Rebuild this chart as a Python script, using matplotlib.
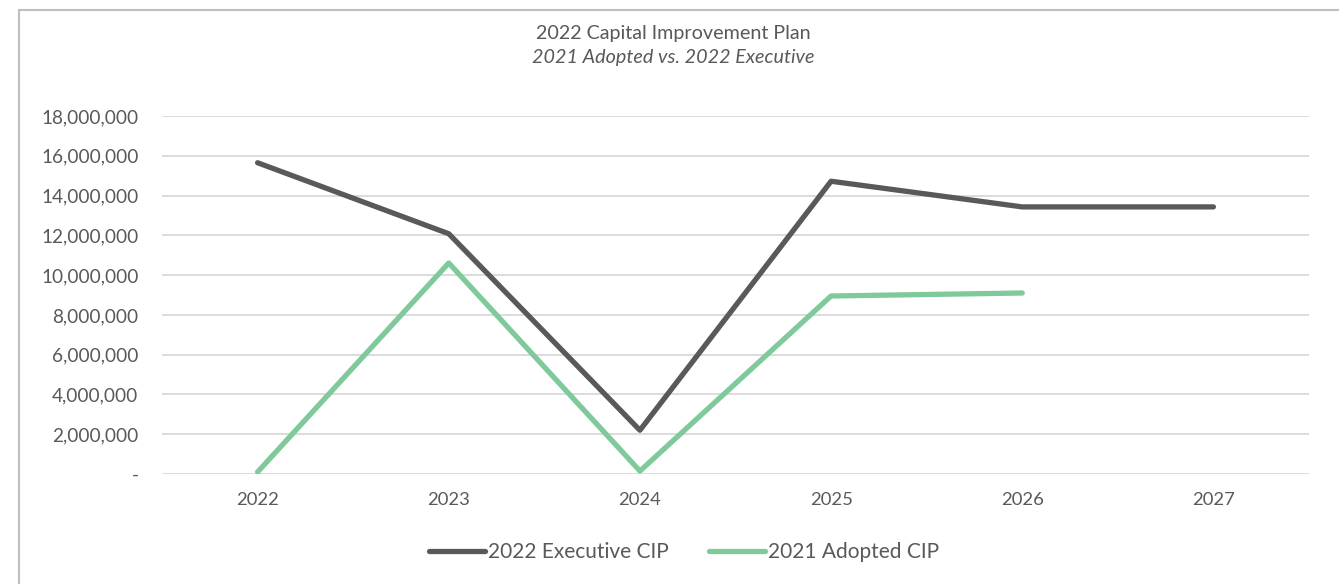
import matplotlib.pyplot as plt
from matplotlib.patches import Rectangle
from matplotlib.ticker import FuncFormatter

plt.rcParams['font.family'] = ['Lato', 'DejaVu Sans']

years = ['2022', '2023', '2024', '2025', '2026', '2027']
executive = [15650000, 12080000, 2200000, 14720000, 13430000, 13430000]
adopted = [100000, 10610000, 150000, 8950000, 9100000]

text_color = '#595959'

fig = plt.figure(figsize=(13.39, 5.84), dpi=100)
ax = fig.add_axes([162 / 1339, 1 - 474 / 584, (1309 - 162) / 1339, (474 - 116) / 584])

ax.plot(range(len(executive)), executive, color='#595959', lw=3.8,
        solid_capstyle='round', solid_joinstyle='round', label='2022 Executive CIP')
ax.plot(range(len(adopted)), adopted, color='#7fc99a', lw=3.8,
        solid_capstyle='round', solid_joinstyle='round', label='2021 Adopted CIP')

ax.set_xlim(-0.5, len(years) - 0.5)
ax.set_ylim(0, 18000000)
ax.set_yticks(range(0, 18000001, 2000000))
ax.yaxis.set_major_formatter(FuncFormatter(lambda v, p: '-' if v == 0 else '{:,.0f}'.format(v)))
ax.set_xticks(range(len(years)))
ax.set_xticklabels(years)
ax.grid(axis='y', color='#d9d9d9', lw=1.3)
ax.set_axisbelow(True)
for s in ax.spines.values():
    s.set_visible(False)
ax.tick_params(length=0, colors=text_color)
ax.tick_params(axis='y', labelsize=13.7, pad=17)
ax.tick_params(axis='x', labelsize=13.3, pad=13)

fig.text(0.5 + 4 / 1339, 1 - 33 / 584, '2022 Capital Improvement Plan', ha='center', va='center',
         fontsize=14.2, color=text_color)
fig.text(0.5 + 4 / 1339, 1 - 57 / 584, '2021 Adopted vs. 2022 Executive', ha='center', va='center',
         fontsize=14.2, style='italic', color=text_color)

fig.legend(loc='center', bbox_to_anchor=(684 / 1339, 1 - 552 / 584), ncol=2, frameon=False,
           fontsize=15, handlelength=2.7, handletextpad=0.15, columnspacing=1.9,
           labelcolor=text_color)

fig.patches.append(Rectangle((19 / 1339, -0.1), 1.2, 1 - 10 / 584 + 0.1, transform=fig.transFigure,
                             fill=False, edgecolor='#bfbfbf', lw=1.5))

fig.savefig('out.png', dpi=100)
